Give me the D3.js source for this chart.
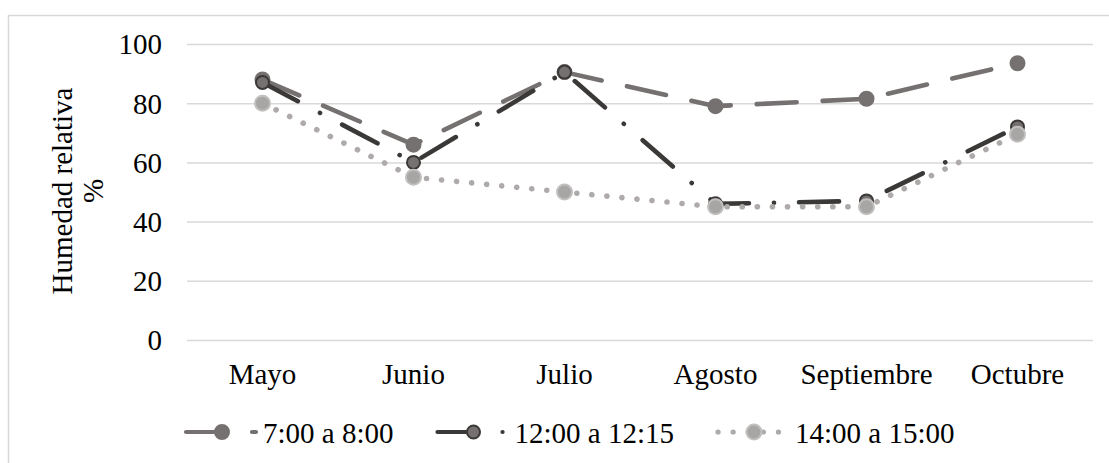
<!DOCTYPE html>
<html>
<head>
<meta charset="utf-8">
<script src="https://cdn.jsdelivr.net/npm/d3@7"></script>
<style>
  html, body { margin: 0; padding: 0; background: #fff; }
  svg { display: block; }
</style>
</head>
<body>
<svg id="chart" width="1109" height="463"></svg>
<script>
// Monthly relative humidity (%) at three times of day
const months = ["Mayo", "Junio", "Julio", "Agosto", "Septiembre", "Octubre"];
const seriesNames = ["7:00 a 8:00", "12:00 a 12:15", "14:00 a 15:00"];
const morning = [88, 66, 90.5, 79, 81.5, 93.5];
const midday = [87, 60, 90.5, 46, 47, 72];
const afternoon = [80, 55, 50, 45, 45, 69.5];
const yTicks = [0, 20, 40, 60, 80, 100];
const yTitle = ["Humedad relativa", "%"];

const FONT = '"Liberation Serif", "Times New Roman", serif';
const FONT_SIZE = "29px";

const styles = [
  { line: "#767171", width: 4.6, dash: "40 26", fill: "#767171", stroke: "#767171", r: 7 },
  { line: "#3b3838", width: 4.6, dash: "40 25 0.1 25", fill: "#767171", stroke: "#3b3838", r: 6.5 },
  { line: "#aeaaaa", width: 5.6, dash: "0.1 15", fill: "#a8a5a5", stroke: "#c2bfbf", r: 7.5 }
];
const series = [morning, midday, afternoon].map((values, i) => ({ name: seriesNames[i], values, style: styles[i] }));

const svg = d3.select("#chart");

// chart frame
svg.append("rect")
  .attr("x", 8.5).attr("y", 15.5)
  .attr("width", 1200).attr("height", 600)
  .attr("fill", "#fff").attr("stroke", "#d9d9d9").attr("stroke-width", 1.5);

const plot = { left: 187, right: 1093, top: 44, bottom: 340 };

const x = d3.scaleBand().domain(months).range([plot.left, plot.right]);
const xc = d => x(d) + x.bandwidth() / 2;
const y = d3.scaleLinear().domain([0, 100]).range([plot.bottom, plot.top]);

const styleText = sel => sel
  .style("font-family", FONT)
  .style("font-size", FONT_SIZE)
  .attr("fill", "#000");

// horizontal gridlines + value labels
const yAxis = svg.append("g")
  .attr("transform", `translate(${plot.left},0)`)
  .call(d3.axisLeft(y).tickValues(yTicks).tickSize(-(plot.right - plot.left)).tickPadding(25));
yAxis.select(".domain").remove();
yAxis.selectAll(".tick line").attr("stroke", "#d9d9d9").attr("stroke-width", 1.5);
yAxis.selectAll(".tick text").call(styleText).attr("dy", "0.34em");

// month labels
const xAxis = svg.append("g")
  .attr("transform", `translate(0,${plot.bottom})`)
  .call(d3.axisBottom(x).tickSize(0).tickPadding(23));
xAxis.select(".domain").remove();
xAxis.selectAll(".tick text").call(styleText);

// axis title, two lines rotated
const title = svg.append("text")
  .attr("transform", "translate(72,191) rotate(-90)")
  .attr("text-anchor", "middle")
  .call(styleText);
title.append("tspan").attr("x", 0).attr("y", 0).text(yTitle[0]);
title.append("tspan").attr("x", 0).attr("y", 31).text(yTitle[1]);

// series lines
const line = d3.line().x((d, i) => xc(months[i])).y(d => y(d));
series.forEach(s => {
  svg.append("path")
    .datum(s.values)
    .attr("d", line)
    .attr("fill", "none")
    .attr("stroke", s.style.line)
    .attr("stroke-width", s.style.width)
    .attr("stroke-dasharray", s.style.dash)
    .attr("stroke-linecap", "round")
    .attr("stroke-linejoin", "round");
});

// markers
series.forEach(s => {
  svg.append("g").selectAll("circle")
    .data(s.values)
    .join("circle")
    .attr("cx", (d, i) => xc(months[i]))
    .attr("cy", d => y(d))
    .attr("r", s.style.r)
    .attr("fill", s.style.fill)
    .attr("stroke", s.style.stroke)
    .attr("stroke-width", 2);
});

// legend
const legendY = 432;
const legend = svg.append("g");
const items = legend.selectAll("g").data(series).join("g");
items.append("path")
  .attr("d", "M0,0H70")
  .attr("fill", "none")
  .attr("stroke", d => d.style.line)
  .attr("stroke-width", d => d.style.width - 0.4)
  .attr("stroke-dasharray", d => d.style.dash)
  .attr("stroke-linecap", "round");
items.append("circle")
  .attr("cx", 36).attr("cy", 0)
  .attr("r", d => d.style.r)
  .attr("fill", d => d.style.fill)
  .attr("stroke", d => d.style.stroke)
  .attr("stroke-width", 2);
items.append("text")
  .attr("x", 77).attr("y", 11)
  .call(styleText)
  .text(d => d.name);

// lay legend entries out left to right
const gap = 44;
let cursor = 186;
items.attr("transform", function () {
  const tx = cursor;
  cursor += 77 + d3.select(this).select("text").node().getComputedTextLength() + gap;
  return `translate(${tx},${legendY})`;
});
</script>
</body>
</html>
